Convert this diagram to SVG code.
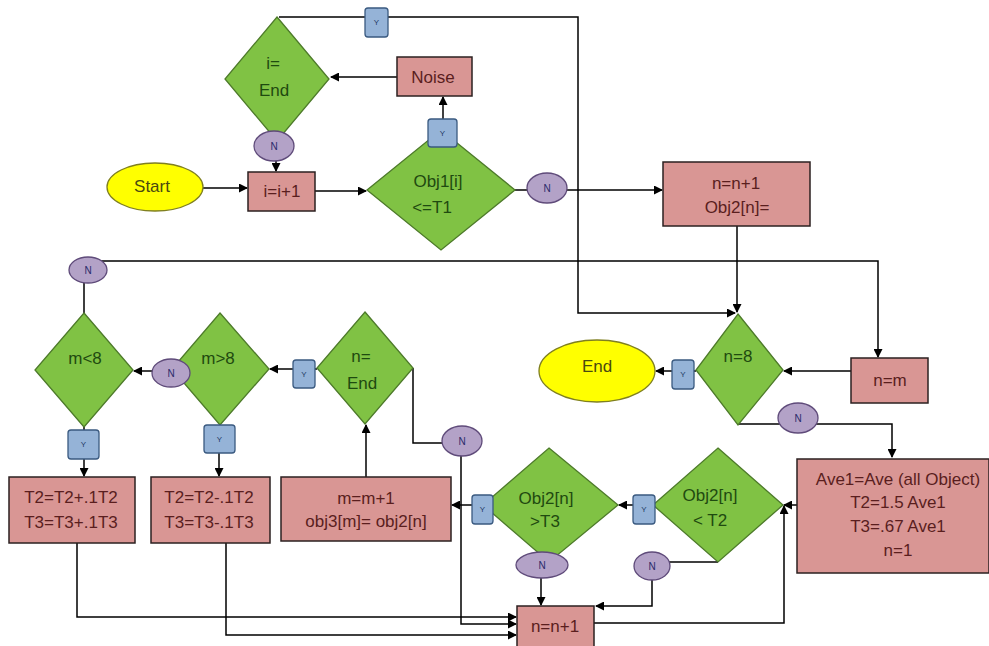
<svg xmlns="http://www.w3.org/2000/svg" width="989" height="646" viewBox="0 0 989 646">
<style>
.dia{fill:#80c244;stroke:#4d7a2a;stroke-width:1.3}
.box{fill:#d99694;stroke:#2b2020;stroke-width:1.5}
.ell{fill:#ffff00;stroke:#7f7f20;stroke-width:1.3}
.yb{fill:#95b3d7;stroke:#3a5a80;stroke-width:1.3}
.ne{fill:#b3a2c7;stroke:#5f4b7a;stroke-width:1.3}
.c{fill:none;stroke:#000;stroke-width:1.5}
text{font-family:"Liberation Sans",Arial,sans-serif;text-anchor:middle;dominant-baseline:middle}
.td{font-size:17px;fill:#1f4a10}
.tb{font-size:17px;fill:#5a1e1e}
.te{font-size:17px;fill:#4a4a10}
.ty{font-size:8px;fill:#1f3a64}
.tn{font-size:10px;fill:#2a2a6a}
</style>
<defs>
<marker id="a" markerWidth="9" markerHeight="9" refX="8" refY="4.5" orient="auto" markerUnits="userSpaceOnUse">
<path d="M0,0 L9,4.5 L0,9 z" fill="#000"/>
</marker>
</defs>
<g id="connectors">
<path class="c" d="M203,188 H247" marker-end="url(#a)"/>
<path class="c" d="M315,191 H366" marker-end="url(#a)"/>
<path class="c" d="M443,132 V97" marker-end="url(#a)"/>
<path class="c" d="M397,77 H331" marker-end="url(#a)"/>
<path class="c" d="M276,140 V171" marker-end="url(#a)"/>
<path class="c" d="M279,17 H578 V313 H735" marker-end="url(#a)"/>
<path class="c" d="M515,190 H662" marker-end="url(#a)"/>
<path class="c" d="M737,226 V312" marker-end="url(#a)"/>
<path class="c" d="M696,371 H656" marker-end="url(#a)"/>
<path class="c" d="M851,371 H784" marker-end="url(#a)"/>
<path class="c" d="M84,313 V270 M100,261 H878 V357" marker-end="url(#a)"/>
<path class="c" d="M737,424 H892 V457" marker-end="url(#a)"/>
<path class="c" d="M797,505 H784" marker-end="url(#a)"/>
<path class="c" d="M653,505 H619" marker-end="url(#a)"/>
<path class="c" d="M483,505 H452" marker-end="url(#a)"/>
<path class="c" d="M366,477 V425" marker-end="url(#a)"/>
<path class="c" d="M317,369 H270" marker-end="url(#a)"/>
<path class="c" d="M180,371 H134" marker-end="url(#a)"/>
<path class="c" d="M84,427 V476" marker-end="url(#a)"/>
<path class="c" d="M219,425 V476" marker-end="url(#a)"/>
<path class="c" d="M77,543 V617 H516" marker-end="url(#a)"/>
<path class="c" d="M226,543 V635 H516" marker-end="url(#a)"/>
<path class="c" d="M413,368 V443 H445"/>
<path class="c" d="M461,455 V624 H516" marker-end="url(#a)"/>
<path class="c" d="M541,578 V605" marker-end="url(#a)"/>
<path class="c" d="M718,562 H668"/>
<path class="c" d="M652,580 V606 H596" marker-end="url(#a)"/>
<path class="c" d="M594,623 H784 V506" marker-end="url(#a)"/>
</g>
<g id="start"><ellipse class="ell" cx="155" cy="187" rx="48" ry="24"/><text class="te" x="152" y="188">Start</text></g>
<g id="inc-i"><rect class="box" x="248" y="172" width="67" height="39"/><text class="tb" x="282" y="193">i=i+1</text></g>
<g id="i-end"><polygon class="dia" points="277,17 329,79 277,141 225,79"/><text class="td" x="273" y="65">i=</text><text class="td" x="274" y="92">End</text></g>
<g id="noise"><rect class="box" x="397" y="57" width="75" height="39"/><text class="tb" x="433" y="79">Noise</text></g>
<g id="obj1"><polygon class="dia" points="441,130 515,190 441,250 367,190"/><text class="td" x="438" y="183">Obj1[i]</text><text class="td" x="432" y="209">&lt;=T1</text></g>
<g id="obj2-set"><rect class="box" x="663" y="162" width="147" height="64"/><text class="tb" x="736" y="185">n=n+1</text><text class="tb" x="737" y="209">Obj2[n]=</text></g>
<g id="n-eq-8"><polygon class="dia" points="738,314 783,370 738,425 696,370"/><text class="td" x="738" y="358">n=8</text></g>
<g id="end"><ellipse class="ell" cx="597" cy="371" rx="58" ry="31"/><text class="te" x="597" y="368">End</text></g>
<g id="n-eq-m"><rect class="box" x="851" y="358" width="77" height="45"/><text class="tb" x="890" y="382">n=m</text></g>
<g id="m-lt-8"><polygon class="dia" points="84,313 133,370 84,427 35,370"/><text class="td" x="85" y="360">m&lt;8</text></g>
<g id="m-gt-8"><polygon class="dia" points="220,313 269,369 220,425 172,369"/><text class="td" x="218" y="360">m&gt;8</text></g>
<g id="n-end"><polygon class="dia" points="365,312 413,368 365,424 317,368"/><text class="td" x="361" y="358">n=</text><text class="td" x="362" y="385">End</text></g>
<g id="t-plus"><rect class="box" x="9" y="477" width="126" height="66"/><text class="tb" x="71" y="499">T2=T2+.1T2</text><text class="tb" x="71" y="524">T3=T3+.1T3</text></g>
<g id="t-minus"><rect class="box" x="151" y="477" width="119" height="66"/><text class="tb" x="209" y="499">T2=T2-.1T2</text><text class="tb" x="209" y="524">T3=T3-.1T3</text></g>
<g id="m-inc"><rect class="box" x="281" y="477" width="170" height="64"/><text class="tb" x="366" y="500">m=m+1</text><text class="tb" x="366" y="523">obj3[m]= obj2[n]</text></g>
<g id="obj2-gt-t3"><polygon class="dia" points="549,448 618,505 549,562 483,505"/><text class="td" x="546" y="500">Obj2[n]</text><text class="td" x="545" y="523">&gt;T3</text></g>
<g id="obj2-lt-t2"><polygon class="dia" points="718,448 783,505 718,562 653,505"/><text class="td" x="710" y="497">Obj2[n]</text><text class="td" x="710" y="522">&lt; T2</text></g>
<g id="ave"><rect class="box" x="797" y="459" width="192" height="114"/><text class="tb" x="898" y="481">Ave1=Ave (all Object)</text><text class="tb" x="898" y="504">T2=1.5 Ave1</text><text class="tb" x="898" y="528">T3=.67 Ave1</text><text class="tb" x="898" y="552">n=1</text></g>
<g id="n-inc"><rect class="box" x="517" y="606" width="77" height="45"/><text class="tb" x="555" y="628">n=n+1</text></g>
<g id="labels">
<g id="y1"><rect class="yb" x="365" y="8" width="23" height="29" rx="3"/><text class="ty" x="376.5" y="23">Y</text></g>
<g id="y2"><rect class="yb" x="428" y="119" width="29" height="28" rx="3"/><text class="ty" x="442.5" y="134">Y</text></g>
<g id="y3"><rect class="yb" x="672" y="360" width="22" height="29" rx="3"/><text class="ty" x="683" y="375">Y</text></g>
<g id="y4"><rect class="yb" x="293" y="360" width="22" height="28" rx="3"/><text class="ty" x="304" y="375">Y</text></g>
<g id="y5"><rect class="yb" x="68" y="430" width="31" height="29" rx="3"/><text class="ty" x="83.5" y="445">Y</text></g>
<g id="y6"><rect class="yb" x="204" y="425" width="31" height="28" rx="3"/><text class="ty" x="219.5" y="440">Y</text></g>
<g id="y7"><rect class="yb" x="472" y="495" width="21" height="29" rx="3"/><text class="ty" x="482.5" y="510">Y</text></g>
<g id="y8"><rect class="yb" x="633" y="495" width="22" height="29" rx="3"/><text class="ty" x="644" y="510">Y</text></g>
<g id="n1"><ellipse class="ne" cx="274" cy="146" rx="20" ry="15"/><text class="tn" x="274" y="147">N</text></g>
<g id="n2"><ellipse class="ne" cx="547" cy="188" rx="20" ry="15"/><text class="tn" x="547" y="189">N</text></g>
<g id="n3"><ellipse class="ne" cx="88" cy="270" rx="19" ry="13"/><text class="tn" x="88" y="271">N</text></g>
<g id="n4"><ellipse class="ne" cx="171" cy="373" rx="19" ry="14"/><text class="tn" x="171" y="374">N</text></g>
<g id="n5"><ellipse class="ne" cx="462" cy="441" rx="20" ry="15"/><text class="tn" x="462" y="442">N</text></g>
<g id="n6"><ellipse class="ne" cx="798" cy="418" rx="20" ry="15"/><text class="tn" x="798" y="419">N</text></g>
<g id="n7"><ellipse class="ne" cx="542" cy="565" rx="26" ry="13"/><text class="tn" x="542" y="566">N</text></g>
<g id="n8"><ellipse class="ne" cx="652" cy="566" rx="18" ry="14"/><text class="tn" x="652" y="567">N</text></g>
</g>
</svg>
